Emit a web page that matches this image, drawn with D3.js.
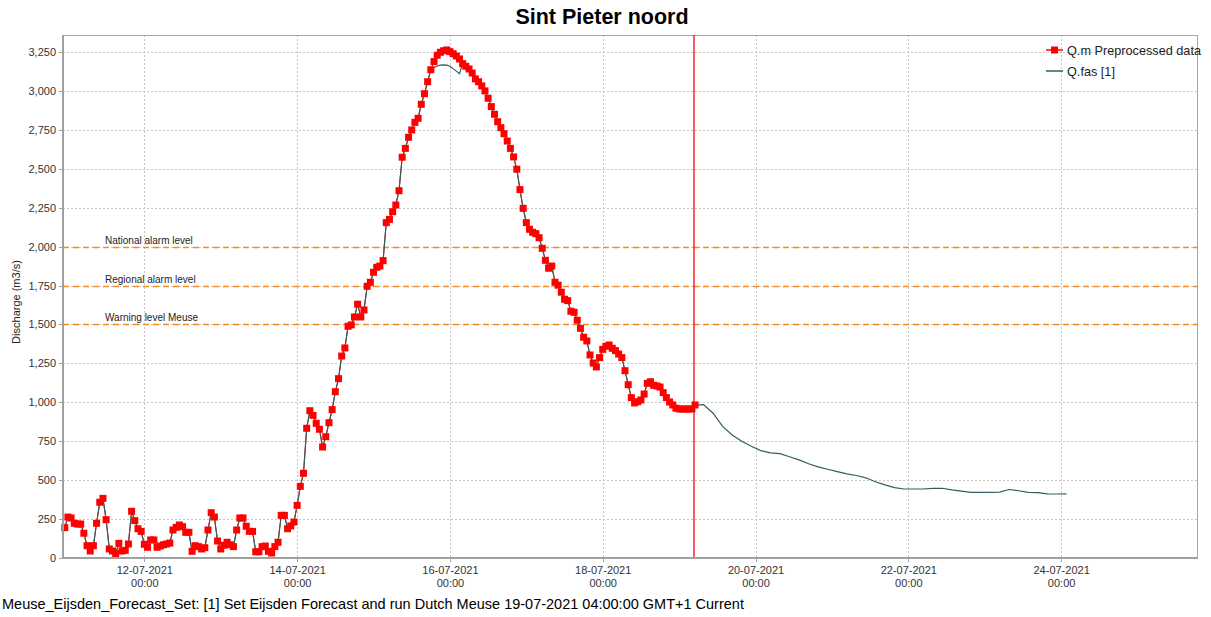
<!DOCTYPE html>
<html>
<head>
    <meta charset="utf-8" />
    <title>Sint Pieter noord</title>
    <script src="https://d3js.org/d3.v7.min.js"></script>
</head>

<style>
    body {
        margin: 0;
        background: #ffffff;
    }

    svg {
        font-family: "Liberation Sans", Arial, sans-serif;
    }

    .grid line {
        stroke: #c6c6c6;
        stroke-dasharray: 2, 2;
        shape-rendering: crispEdges;
    }

    .axis path,
    .axis line {
        stroke: #a0a0a0;
        shape-rendering: crispEdges;
    }

    .axis text {
        fill: #333333;
        font-size: 11px;
    }
</style>

<body>
    <svg id="chart" width="1211" height="617"></svg>

    <script>
        // observed hourly discharge (Q.m Preprocessed data), starting 10-07 23:00
        var obsStart = "2021-07-10T23:00";
        var observed = [
            195, 263, 257, 223, 218, 218, 159, 79, 45, 79,
            223, 358, 383, 246, 58, 45, 28, 94, 45, 49,
            90, 300, 240, 188, 171, 88, 69, 116, 116, 69,
            77, 85, 90, 96, 180, 197, 212, 201, 165, 165,
            43, 79, 73, 58, 66, 180, 291, 263, 109, 58,
            82, 101, 85, 73, 180, 257, 257, 204, 171, 171,
            40, 40, 73, 77, 43, 32, 73, 101, 274, 274,
            188, 206, 231,
            338, 460, 544, 833, 946, 916, 865, 827, 713, 779,
            869, 953, 1068, 1152, 1297, 1349, 1488, 1497, 1548, 1630,
            1548, 1593, 1745, 1771, 1835, 1867, 1875, 1910, 2154, 2175,
            2224, 2267, 2359, 2574, 2631, 2702, 2749, 2798, 2824, 2914,
            2982, 3059, 3136, 3188, 3229, 3248, 3258, 3263, 3252, 3239,
            3224, 3205, 3175, 3158, 3141, 3115, 3077, 3059, 3032, 3000,
            2953, 2899, 2850, 2802, 2764, 2725, 2678, 2631, 2576, 2497,
            2366, 2246, 2154, 2111, 2092, 2083, 2057, 1989, 1912, 1861,
            1875, 1771, 1752, 1707, 1662, 1653, 1585, 1578, 1527, 1475,
            1418, 1394, 1304, 1252, 1227, 1287, 1340, 1360, 1368, 1347,
            1332, 1310, 1287, 1203, 1113, 1030, 996, 1004, 1015, 1053,
            1122, 1132, 1109, 1105, 1098, 1062, 1030, 1002, 983, 962,
            957, 957, 957, 957, 957, 983
        ];

        // Q.fas values around the peak where it departs from the observations
        var simPeakStart = 116;
        var simPeak = [3150, 3160, 3165, 3167, 3165, 3158, 3143, 3127, 3110];

        // Q.fas forecast, 3-hourly from T0
        var forecastStart = "2021-07-19T04:40";
        var forecastStepHours = 3;
        var forecast = [
            980, 985, 930, 845, 790, 750, 718, 690, 675, 670,
            650, 630, 605, 585, 570, 555, 540, 530, 515, 490,
            470, 452, 443, 443, 443, 447, 448, 437, 430, 422,
            422, 422, 423, 440, 432, 422, 420, 412, 411, 412
        ];

        var thresholdNames = ["National alarm level", "Regional alarm level", "Warning level Meuse"];
        var thresholdValues = [2000, 1750, 1500];

        var yTicks = [0, 250, 500, 750, 1000, 1250, 1500, 1750, 2000, 2250, 2500, 2750, 3000, 3250];
        var xTicks = ["2021-07-12", "2021-07-14", "2021-07-16", "2021-07-18", "2021-07-20", "2021-07-22", "2021-07-24"];
        var xDomain = ["2021-07-10T22:27", "2021-07-25T19:00"];
        var yMax = 3359;

        var seriesNames = ["Q.m Preprocessed data", "Q.fas [1]"];

        var margin = {
            top: 35,
            right: 13,
            bottom: 59,
            left: 63
        };
        var width = 1211 - margin.left - margin.right,
            height = 617 - margin.top - margin.bottom;

        var parse = d3.utcParse("%Y-%m-%dT%H:%M"),
            parseDay = d3.utcParse("%Y-%m-%d");
        var HOUR = 3600 * 1000;

        var svg = d3.select("#chart");
        var g = svg.append("g")
            .attr("transform", "translate(" + margin.left + "," + margin.top + ")");

        var x = d3.scaleUtc()
            .domain(xDomain.map(parse))
            .range([0, width]);
        var y = d3.scaleLinear()
            .domain([0, yMax])
            .range([height, 0]);

        var t0 = parse(obsStart).getTime();
        var obsData = observed.map(function(v, i) {
            return { t: new Date(t0 + i * HOUR), v: v };
        });
        var simData = obsData.map(function(d, i) {
            var k = i - simPeakStart;
            return { t: d.t, v: (k >= 0 && k < simPeak.length) ? simPeak[k] : d.v };
        });
        var f0 = parse(forecastStart).getTime();
        var fcData = forecast.map(function(v, i) {
            return { t: new Date(f0 + i * forecastStepHours * HOUR), v: v };
        });

        // grid
        g.append("g")
            .attr("class", "grid")
            .selectAll("line")
            .data(yTicks)
            .enter().append("line")
            .attr("x1", 0)
            .attr("x2", width)
            .attr("y1", function(d) { return Math.round(y(d)) + 0.5; })
            .attr("y2", function(d) { return Math.round(y(d)) + 0.5; });

        g.append("g")
            .attr("class", "grid")
            .selectAll("line")
            .data(xTicks.map(parseDay))
            .enter().append("line")
            .attr("y1", 0)
            .attr("y2", height)
            .attr("x1", function(d) { return Math.round(x(d)) + 0.5; })
            .attr("x2", function(d) { return Math.round(x(d)) + 0.5; });

        // plot border
        g.append("rect")
            .attr("x", 0.5)
            .attr("y", 0.5)
            .attr("width", width - 1)
            .attr("height", height)
            .attr("fill", "none")
            .attr("stroke", "#a8a8a8")
            .attr("stroke-width", 1);

        // threshold lines
        g.selectAll(".threshold")
            .data(thresholdValues)
            .enter().append("line")
            .attr("class", "threshold")
            .attr("x1", 0)
            .attr("x2", width)
            .attr("y1", function(d) { return Math.round(y(d)) + 0.5; })
            .attr("y2", function(d) { return Math.round(y(d)) + 0.5; })
            .attr("stroke", "#f58a1f")
            .attr("stroke-width", 1.3)
            .attr("stroke-dasharray", "6,4");

        g.selectAll(".threshold-label")
            .data(thresholdValues)
            .enter().append("text")
            .attr("class", "threshold-label")
            .attr("x", 42)
            .attr("y", function(d) { return y(d) - 3; })
            .attr("font-size", "10px")
            .attr("fill", "#222")
            .text(function(d, i) { return thresholdNames[i]; });

        var line = d3.line()
            .x(function(d) { return x(d.t); })
            .y(function(d) { return y(d.v); });

        // observed line (mostly hidden)
        g.append("path")
            .datum(obsData)
            .attr("fill", "none")
            .attr("stroke", "#ff0000")
            .attr("stroke-width", 1)
            .attr("d", line);

        // simulated history + forecast
        g.append("path")
            .datum(simData)
            .attr("fill", "none")
            .attr("stroke", "#2f5f5f")
            .attr("stroke-width", 1.2)
            .attr("d", line);

        g.append("path")
            .datum(fcData)
            .attr("fill", "none")
            .attr("stroke", "#2f5f5f")
            .attr("stroke-width", 1.2)
            .attr("d", line);

        // squares
        var sq = 7;
        g.selectAll(".obs")
            .data(obsData)
            .enter().append("rect")
            .attr("class", "obs")
            .attr("x", function(d) { return x(d.t) - sq / 2; })
            .attr("y", function(d) { return y(d.v) - sq / 2; })
            .attr("width", sq)
            .attr("height", sq)
            .attr("fill", "#ff0000");

        // forecast time line
        var xT0 = x(parse(forecastStart));
        g.append("line")
            .attr("x1", xT0)
            .attr("x2", xT0)
            .attr("y1", 0)
            .attr("y2", height)
            .attr("stroke", "#ff0000")
            .attr("stroke-width", 1.3);

        // axes
        var yAxis = d3.axisLeft(y)
            .tickValues(yTicks)
            .tickSize(4)
            .tickPadding(3)
            .tickFormat(d3.format(","));

        var ya = g.append("g")
            .attr("class", "axis")
            .call(yAxis);
        ya.select(".domain").attr("stroke-width", 2).attr("d", "M0,0V" + height);

        var xAxis = d3.axisBottom(x)
            .tickValues(xTicks.map(parseDay))
            .tickSize(4)
            .tickFormat("");

        var xa = g.append("g")
            .attr("class", "axis")
            .attr("transform", "translate(0," + height + ")")
            .call(xAxis);
        xa.select(".domain").attr("stroke-width", 2).attr("d", "M0,0H" + width);

        xa.selectAll(".tick").append("text")
            .attr("fill", "#333")
            .attr("text-anchor", "middle")
            .attr("font-size", "11px")
            .each(function(d) {
                var t = d3.select(this);
                t.append("tspan").attr("x", 0).attr("y", 16).text(d3.utcFormat("%d-%m-%Y")(d));
                t.append("tspan").attr("x", 0).attr("y", 29).text(d3.utcFormat("%H:%M")(d));
            });

        // y label
        svg.append("text")
            .attr("transform", "translate(20,302) rotate(-90)")
            .attr("text-anchor", "middle")
            .attr("font-size", "11px")
            .attr("fill", "#222")
            .text("Discharge (m3/s)");

        // title
        svg.append("text")
            .attr("x", 602)
            .attr("y", 24)
            .attr("text-anchor", "middle")
            .attr("font-size", "21.5px")
            .attr("font-weight", "bold")
            .attr("fill", "#000")
            .text("Sint Pieter noord");

        // legend
        var legend = svg.append("g")
            .attr("transform", "translate(1046,50)");

        legend.append("line")
            .attr("x1", 0).attr("x2", 17)
            .attr("y1", 0).attr("y2", 0)
            .attr("stroke", "#ff0000")
            .attr("stroke-width", 1.5);
        legend.append("rect")
            .attr("x", 5).attr("y", -3.5)
            .attr("width", 7).attr("height", 7)
            .attr("fill", "#ff0000");
        legend.append("line")
            .attr("x1", 0).attr("x2", 17)
            .attr("y1", 21).attr("y2", 21)
            .attr("stroke", "#2f5f5f")
            .attr("stroke-width", 1.5);

        legend.selectAll("text")
            .data(seriesNames)
            .enter().append("text")
            .attr("x", 21)
            .attr("y", function(d, i) { return i * 21 + 4.5; })
            .attr("font-size", "12.7px")
            .attr("fill", "#222")
            .text(function(d) { return d; });

        // footer
        svg.append("text")
            .attr("x", 2)
            .attr("y", 609)
            .attr("font-size", "14.5px")
            .attr("fill", "#000")
            .text("Meuse_Eijsden_Forecast_Set: [1] Set Eijsden Forecast and run Dutch Meuse 19-07-2021 04:00:00 GMT+1 Current");
    </script>
</body>
</html>
